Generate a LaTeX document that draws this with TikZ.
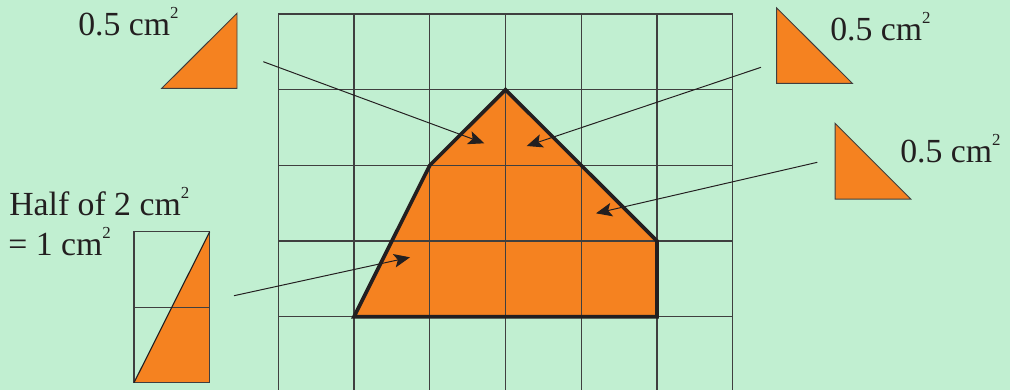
\documentclass[tikz,border=0pt]{standalone}
\usepackage{fontspec}
\setmainfont{Liberation Serif}
\usetikzlibrary{arrows.meta}
\definecolor{bg}{HTML}{C1EFD1}
\definecolor{org}{HTML}{F58220}
\definecolor{ink}{HTML}{231F20}
\definecolor{gridc}{HTML}{3F3F3F}
\newcommand{\sqcmunit}{cm\raisebox{11.5pt}{\fontsize{12}{12}\selectfont 2}}
\tikzset{
  gridline/.style={draw=gridc, line width=0.8pt},
  shapeborder/.style={draw=ink, line width=2.6pt, line join=miter},
  smalltri/.style={fill=org, draw=gridc, line width=0.7pt},
  pointer/.style={draw=ink, line width=0.7pt, -{Stealth[length=0.4cm, width=0.34cm, inset=0.09cm]}},
  label/.style={inner sep=0pt, anchor=base west, font=\fontsize{24}{28}\selectfont, text=ink}
}
\begin{document}
\begin{tikzpicture}[x=0.025cm, y=-0.025cm]
\useasboundingbox (0,0) rectangle (1010,390);
\fill[bg] (0,0) rectangle (1010,390);

% polygon fill
\coordinate (p1) at (354,316.7);
\coordinate (p2) at (429.8,165.3);
\coordinate (p3) at (505.5,89.7);
\coordinate (p4) at (657,241);
\coordinate (p5) at (657,316.7);
\fill[org] (p1) -- (p2) -- (p3) -- (p4) -- (p5) -- cycle;

% grid
\foreach \x in {278.3,354,429.8,505.5,581.2,657,732.7}
  \draw[gridline] (\x,14) -- (\x,390);
\foreach \y in {14,89.7,165.3,241,316.7}
  \draw[gridline] (278.3,\y) -- (732.7,\y);

% polygon border
\draw[shapeborder] (p1) -- (p2) -- (p3) -- (p4) -- (p5) -- cycle;

% small triangles
\draw[smalltri] (161.7,88.3) -- (237,13.3) -- (237,88.3) -- cycle;
\draw[smalltri] (776.7,8) -- (776.7,83.3) -- (852.3,83.3) -- cycle;
\draw[smalltri] (835,123.3) -- (835,199) -- (910.7,199) -- cycle;

% rectangle with half
\fill[org] (134,382.7) -- (209.7,231.7) -- (209.7,382.7) -- cycle;
\draw[gridc, line width=0.8pt] (134,231.7) rectangle (209.7,382.7);
\draw[gridc, line width=0.8pt] (134,307.3) -- (209.7,307.3);
\draw[ink, line width=0.8pt] (134,382.7) -- (209.7,231.7);

% labels
\node[label] (l1) at (78,35) {0.5 \sqcmunit};
\node[label] (l2) at (830,40) {0.5 \sqcmunit};
\node[label] (l3) at (900,162) {0.5 \sqcmunit};
\node[label] (l4) at (9,215) {Half of 2 \sqcmunit};
\node[label] (l5) at (8,255) {= 1 \sqcmunit};

% arrows
\coordinate (a1s) at (263.3,61.7);  \coordinate (a1e) at (484.3,143.3);
\coordinate (a2s) at (761,67.3);    \coordinate (a2e) at (526.7,146);
\coordinate (a3s) at (817.3,162.3); \coordinate (a3e) at (596,213.3);
\coordinate (a4s) at (234,295.7);   \coordinate (a4e) at (410,257.3);
\draw[pointer] (a1s) -- (a1e);
\draw[pointer] (a2s) -- (a2e);
\draw[pointer] (a3s) -- (a3e);
\draw[pointer] (a4s) -- (a4e);
\end{tikzpicture}
\end{document}
